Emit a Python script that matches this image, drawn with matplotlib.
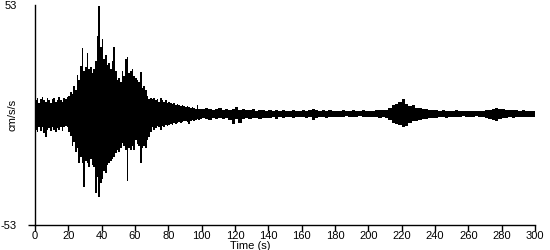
import numpy as np
import matplotlib
matplotlib.use('Agg')
from matplotlib import pyplot as plt

plt.rcParams['font.family'] = ['Liberation Sans', 'DejaVu Sans']
plt.rcParams['axes.unicode_minus'] = False

# Envelope of the acceleration trace (cm/s/s).
# 1 s bins from 0 to 100 s, then 2 s bins up to 300 s.
upper_fine = [
    7, 8, 6, 7.5, 8.5, 7, 6.5, 8, 7, 6,
    7.5, 8, 6.5, 7, 8.5, 7, 6.5, 8, 7.5, 8.5,
    9, 11, 10, 14, 12, 19.5, 17, 23.5, 32.5, 21,
    23, 30, 22, 23, 20, 22, 26, 38, 52.5, 33,
    36.5, 27, 29, 24, 25, 22, 26, 33, 21, 17,
    18, 16, 21, 19, 27, 28, 20, 21, 22, 19,
    18, 17, 16, 20.5, 13, 14, 12, 9, 7.5, 8,
    7.5, 8, 7, 7.5, 6.5, 8, 7, 6.5, 7, 6,
    6.5, 6, 5.5, 6, 5, 5.5, 5, 4.5, 5, 4.5,
    4, 4.5, 4, 3.5, 4, 3.5, 3, 5, 3, 3,
]
lower_fine = [
    -7, -8, -6, -7.5, -6, -8.5, -10.5, -7, -6.5, -7.5,
    -6, -7, -8, -6.5, -7, -6, -7.5, -6, -5.5, -6,
    -8, -10, -15, -13, -18, -16, -23, -20, -23, -34.5,
    -22, -23, -25, -21, -24, -25, -37.5, -30, -39.4, -33,
    -31, -27, -28, -24, -23, -22, -21, -20, -18.5, -17,
    -18, -16, -13.5, -15, -17, -32, -16, -17, -15, -17,
    -12, -14, -15, -23, -16, -15, -16, -12, -10.5, -8,
    -6, -7, -6.5, -5.5, -6, -7, -5.5, -6, -5, -5.5,
    -5, -4.5, -5, -4, -4.5, -4, -3.5, -4, -3.5, -3,
    -3, -3.5, -4.5, -3, -2.5, -3, -2.5, -2, -2.5, -2,
]
upper_coarse = [
    3, 3.5, 3, 2.5, 3, 3.5, 2.5, 3, 2.5, 3,
    4, 2.5, 3, 2.5, 2.5, 3, 2, 2.5, 2.5, 2,
    2.5, 2, 2.5, 2, 2.5, 2, 2, 2.5, 2, 2,
    2.5, 2, 2.5, 3, 2.5, 2, 2.5, 2, 2.5, 2,
    2, 2, 2.5, 2, 2, 2.5, 2, 2, 2.5, 2,
    2, 2, 2.5, 2.5, 2.5, 2.5, 3.5, 5, 5.5, 6.5,
    7.5, 5.5, 4.5, 5, 3.5, 3.5, 3, 3, 2.5, 2.5,
    2.5, 2, 2.5, 2, 2, 2, 2.5, 2, 2, 2,
    2, 2, 2, 2, 2, 2.5, 2.5, 3, 3.5, 3,
    3, 2.5, 2.5, 2.5, 2.5, 2, 2.5, 2, 2, 2,
]
lower_coarse = [
    -1.5, -2, -2.5, -1.5, -2, -1.5, -2, -1.5, -2.5, -4.5,
    -2, -4, -2, -1.5, -2, -1.5, -1.5, -2, -1.5, -1.5,
    -1.5, -1, -2, -1, -1.5, -1, -1, -1.5, -1, -1,
    -1, -1.5, -1, -2.5, -1.5, -1, -1, -1.5, -1, -1,
    -1, -1, -1, -0.5, -1, -1, -1, -0.5, -1, -1,
    -1, -1, -1, -1.5, -1, -1.5, -2.5, -4, -4.5, -5,
    -6, -5.5, -4, -3, -3, -2.5, -2, -2, -1.5, -1.5,
    -1.5, -1, -1, -1.5, -1, -1, -1, -1, -0.5, -1,
    -1, -1, -0.5, -1, -1, -1.5, -2, -2.5, -3, -2,
    -1.5, -1.5, -1, -1.5, -1, -1, -1, -1, -1, -1,
]

x_ticks = list(range(0, 301, 20))
y_ticks = [-53, 53]

edges = np.concatenate([np.arange(0, 100, 1), np.arange(100, 301, 2)])
upper = np.array(upper_fine + upper_coarse)
lower = np.array(lower_fine + lower_coarse)

fig = plt.figure(figsize=(5.5, 2.5), dpi=100)
ax = fig.add_axes([35 / 550, 25 / 250, 500 / 550, 220 / 250])

ax.stairs(upper, edges, baseline=lower, fill=True, color='black', lw=0.6)

ax.set_xlim(0, 300)
ax.set_ylim(-53, 53)
ax.set_xticks(x_ticks)
ax.set_yticks(y_ticks)
ax.spines['top'].set_visible(False)
ax.spines['right'].set_visible(False)
for s in ('left', 'bottom'):
    ax.spines[s].set_linewidth(1.0)
ax.tick_params(axis='x', direction='out', length=4, width=1, labelsize=8, pad=0)
ax.tick_params(axis='y', direction='out', length=5, width=1, labelsize=8, pad=8)
ax.yaxis.get_major_ticks()[1].tick1line.set_visible(False)

ax.set_ylabel('cm/s/s', fontsize=8)
ax.yaxis.set_label_coords(-0.034, 0.5)
ax.set_xlabel('Time (s)', fontsize=8)
ax.xaxis.set_label_coords(215 / 500, -0.074)

fig.savefig('out.png', dpi=100)
